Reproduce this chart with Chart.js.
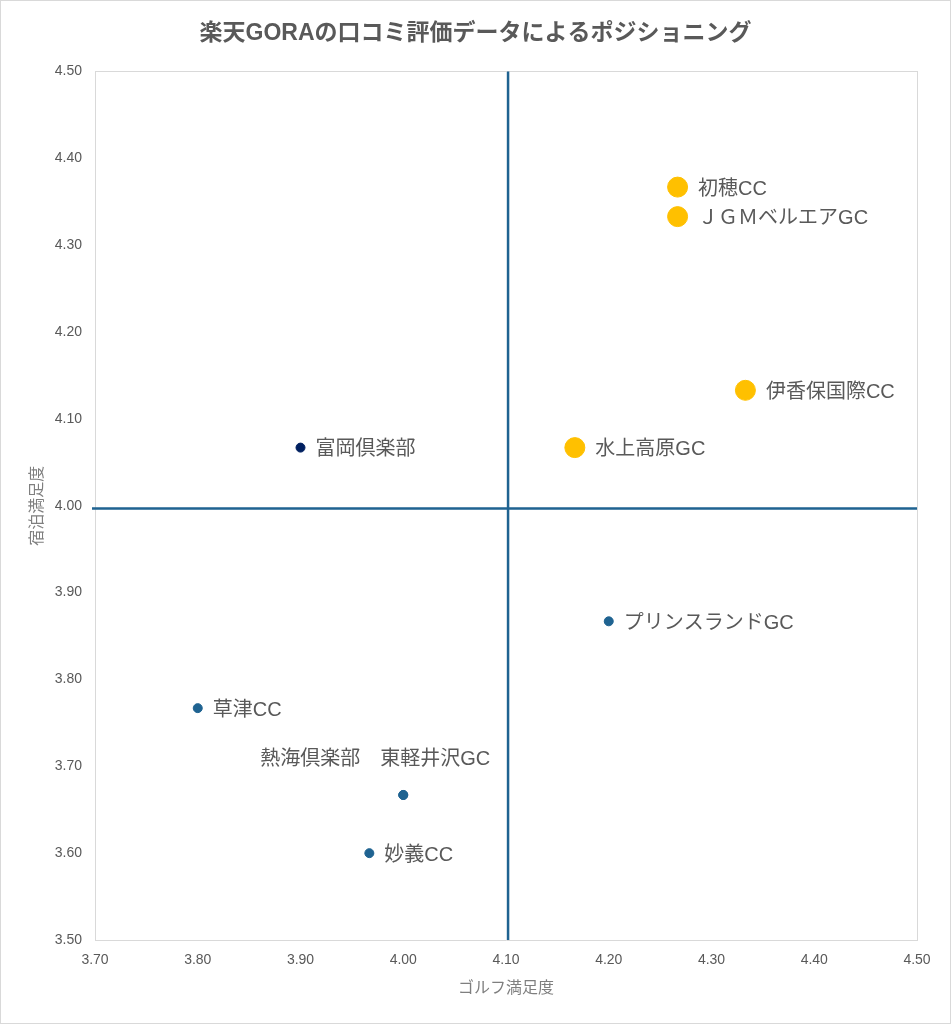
<!DOCTYPE html>
<html><head><meta charset="utf-8">
<script src="https://cdn.jsdelivr.net/npm/chart.js@4/dist/chart.umd.min.js"></script>
<style>html,body{margin:0;padding:0;background:#fff}canvas{display:block}</style>
</head><body>
<canvas id="c" width="951" height="1024"></canvas>
<script>
const titleText = '楽天GORAの口コミ評価データによるポジショニング';
const xTitle = 'ゴルフ満足度';
const yTitle = '宿泊満足度';
const xTicks = [3.7, 4.5, 0.1];
const yTicks = [3.5, 4.5, 0.1];
const crossX = 4.102;
const crossY = 3.997;

const topNames = ['初穂CC', 'ＪＧＭベルエアGC', '伊香保国際CC', '水上高原GC'];
const topGolf = [4.267, 4.267, 4.333, 4.167];
const topStay = [4.367, 4.333, 4.133, 4.067];

const midNames = ['富岡倶楽部'];
const midGolf = [3.90];
const midStay = [4.067];

const lowNames = ['プリンスランドGC', '草津CC', '熱海倶楽部', '東軽井沢GC', '妙義CC'];
const lowGolf = [4.20, 3.80, 4.00, 4.00, 3.967];
const lowStay = [3.867, 3.767, 3.667, 3.667, 3.60];

const toPts = (g, s) => g.map((v, i) => ({x: v, y: s[i]}));
const CJK = '"Liberation Sans", "Noto Sans CJK JP", sans-serif';
const TXT = '#595959';

const labelPlugin = {
  id: 'labels',
  afterDatasetsDraw(chart) {
    const ctx = chart.ctx;
    ctx.save();
    ctx.font = '20px ' + CJK;
    ctx.fillStyle = TXT;
    ctx.textBaseline = 'middle';
    chart.data.datasets.forEach((ds, di) => {
      const meta = chart.getDatasetMeta(di);
      const used = new Set();
      meta.data.forEach((pt, i) => {
        if (used.has(i)) return;
        const same = [];
        ds.data.forEach((d, j) => {
          if (d.x === ds.data[i].x && d.y === ds.data[i].y) { same.push(j); used.add(j); }
        });
        const text = same.map(j => ds.names[j]).join('　');
        const r = ds.pointRadius;
        if (same.length > 1) {
          ctx.textAlign = 'right';
          ctx.fillText(text, pt.x + 87, pt.y - 35);
        } else {
          ctx.textAlign = 'left';
          ctx.fillText(text, pt.x + r + 10.5, pt.y + 2);
        }
      });
    });
    ctx.restore();
  }
};

const crossPlugin = {
  id: 'cross',
  beforeDatasetsDraw(chart) {
    const {ctx, chartArea: a, scales: {x, y}} = chart;
    ctx.save();
    ctx.strokeStyle = '#1F6391';
    ctx.lineWidth = 2.5;
    const px = x.getPixelForValue(crossX);
    const py = y.getPixelForValue(crossY);
    ctx.beginPath();
    ctx.moveTo(px, a.top); ctx.lineTo(px, a.bottom);
    ctx.moveTo(a.left - 3, py); ctx.lineTo(a.right, py);
    ctx.stroke();
    ctx.restore();
  },
  afterDraw(chart) {
    const ctx = chart.ctx;
    ctx.save();
    ctx.strokeStyle = '#d9d9d9';
    ctx.lineWidth = 1;
    ctx.strokeRect(0.5, 0.5, chart.width - 1, chart.height - 1);
    ctx.restore();
  }
};

new Chart(document.getElementById('c'), {
  type: 'scatter',
  data: {
    datasets: [
      {names: topNames, data: toPts(topGolf, topStay), backgroundColor: '#FFC000', borderColor: '#FFC000', pointRadius: 10, pointHoverRadius: 10},
      {names: midNames, data: toPts(midGolf, midStay), backgroundColor: '#002060', borderColor: '#002060', pointRadius: 4.5, pointHoverRadius: 4.5},
      {names: lowNames, data: toPts(lowGolf, lowStay), backgroundColor: '#1F6391', borderColor: '#1F6391', pointRadius: 4.5, pointHoverRadius: 4.5}
    ]
  },
  options: {
    responsive: false,
    animation: false,
    devicePixelRatio: 1,
    layout: {padding: 0},
    plugins: {
      legend: {display: false},
      tooltip: {enabled: false},
      title: {
        display: true, text: titleText, color: TXT,
        font: {family: CJK, size: 23, weight: 'bold'},
        padding: {top: 20, bottom: 24}
      }
    },
    scales: {
      x: {
        type: 'linear', min: xTicks[0], max: xTicks[1],
        ticks: {stepSize: xTicks[2], color: TXT, padding: 12, font: {family: '"Liberation Sans", Arial, sans-serif', size: 14}, callback: v => v.toFixed(2)},
        grid: {display: false, drawTicks: false},
        border: {display: true, color: '#d9d9d9'},
        title: {display: true, text: xTitle, color: '#7f7f7f', font: {family: '"Noto Sans CJK JP", sans-serif', size: 16}, padding: {top: 0, bottom: 27}},
        afterFit(s) { s.height = 84; }
      },
      y: {
        type: 'linear', min: yTicks[0], max: yTicks[1],
        ticks: {stepSize: yTicks[2], color: TXT, padding: 13, font: {family: '"Liberation Sans", Arial, sans-serif', size: 14}, callback: v => v.toFixed(2)},
        grid: {display: false, drawTicks: false},
        border: {display: true, color: '#d9d9d9'},
        title: {display: true, text: yTitle, color: '#7f7f7f', font: {family: '"Noto Sans CJK JP", sans-serif', size: 16}, padding: {top: 26, bottom: 26}},
        afterFit(s) { s.width = 95; }
      },
      x2: {
        type: 'linear', position: 'top', display: true, min: xTicks[0], max: xTicks[1],
        ticks: {display: false}, grid: {display: false, drawTicks: false},
        border: {display: true, color: '#d9d9d9'},
        afterFit(s) { s.height = 0; }
      },
      y2: {
        type: 'linear', position: 'right', display: true, min: yTicks[0], max: yTicks[1],
        ticks: {display: false}, grid: {display: false, drawTicks: false},
        border: {display: true, color: '#d9d9d9'},
        afterFit(s) { s.width = 34; }
      }
    }
  },
  plugins: [crossPlugin, labelPlugin]
});
</script>
</body></html>
